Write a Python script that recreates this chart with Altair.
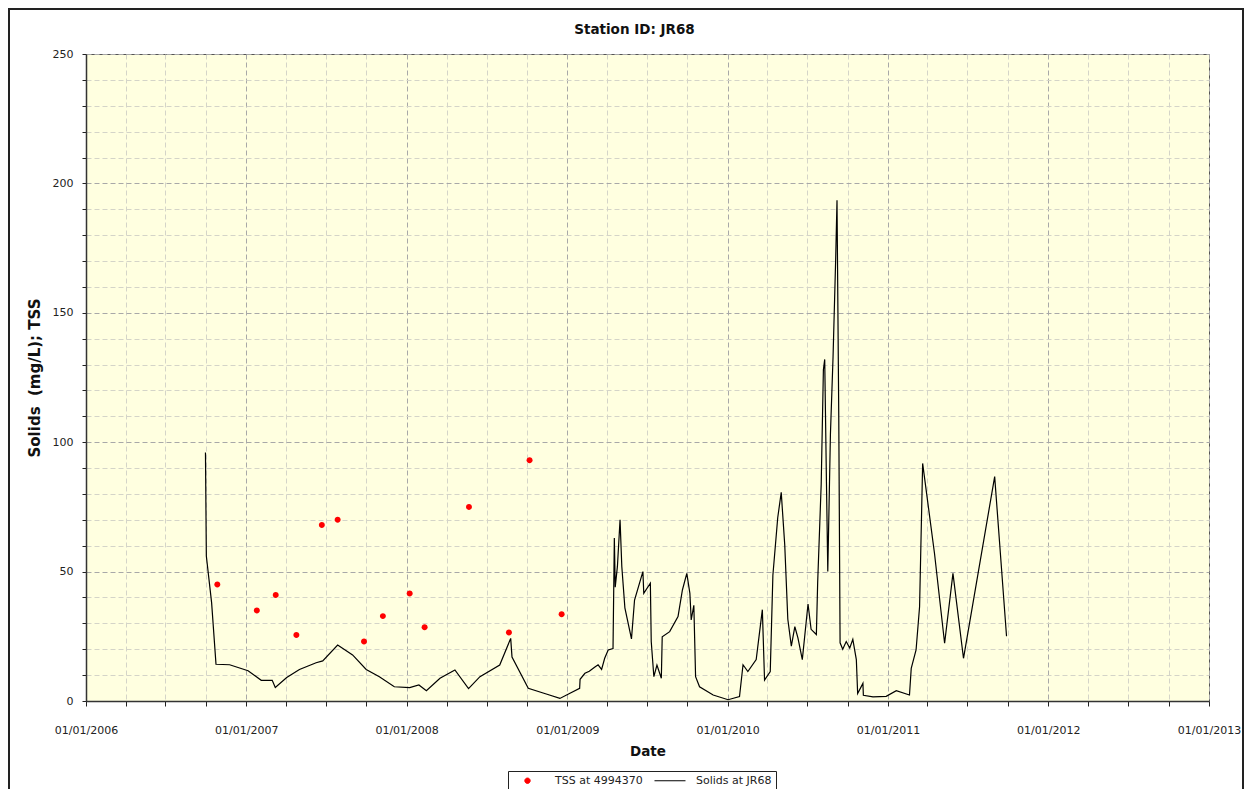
import altair as alt
import pandas as pd

# ---- data ----
tss_dates = ["2006-10-27", "2007-01-25", "2007-03-09", "2007-04-25", "2007-06-22",
             "2007-07-28", "2007-09-26", "2007-11-08", "2008-01-08", "2008-02-11",
             "2008-05-22", "2008-08-21", "2008-10-07", "2008-12-19"]
tss_values = [45, 35, 41, 25.5, 68, 70, 23, 32.8, 41.5, 28.5, 75, 26.5, 93, 33.5]

solids_dates = [
    "2006-09-30", "2006-10-02", "2006-10-14", "2006-10-24", "2006-11-24",
    "2007-01-05", "2007-02-04", "2007-03-01", "2007-03-08", "2007-04-03",
    "2007-05-02", "2007-06-09", "2007-06-24", "2007-07-28", "2007-08-31",
    "2007-10-01", "2007-10-31", "2007-12-04", "2008-01-08", "2008-01-29",
    "2008-02-15", "2008-03-17", "2008-04-20", "2008-05-21", "2008-06-16",
    "2008-07-31", "2008-08-25", "2008-08-28", "2008-10-04", "2008-11-14",
    "2008-12-15", "2009-01-07", "2009-01-29", "2009-01-30", "2009-02-10",
    "2009-02-20", "2009-03-04", "2009-03-12", "2009-03-20", "2009-03-27",
    "2009-04-04", "2009-04-15",
    "2009-04-18", "2009-04-20", "2009-04-25", "2009-05-01", "2009-05-05",
    "2009-05-12", "2009-05-27", "2009-06-03", "2009-06-22", "2009-06-24",
    "2009-07-09", "2009-07-11", "2009-07-17", "2009-07-24", "2009-08-03",
    "2009-08-05", "2009-08-22", "2009-09-10", "2009-09-20", "2009-09-30",
    "2009-10-07", "2009-10-10", "2009-10-16", "2009-10-20", "2009-10-29",
    "2009-11-29", "2010-01-02", "2010-01-28", "2010-02-05", "2010-02-16",
    "2010-03-07", "2010-03-21", "2010-03-26", "2010-04-08", "2010-04-14",
    "2010-04-25", "2010-05-03", "2010-05-11", "2010-05-18", "2010-05-26",
    "2010-06-03", "2010-06-10", "2010-06-20", "2010-07-03", "2010-07-10",
    "2010-07-22", "2010-07-25", "2010-08-02", "2010-08-07", "2010-08-10",
    "2010-08-14", "2010-08-17", "2010-08-23", "2010-08-29", "2010-09-04",
    "2010-09-07", "2010-09-11", "2010-09-14", "2010-09-20", "2010-09-28",
    "2010-10-06", "2010-10-13", "2010-10-21", "2010-10-24", "2010-11-05",
    "2010-11-06", "2010-11-28", "2010-12-28", "2011-01-20", "2011-02-19",
    "2011-02-23", "2011-03-06", "2011-03-14", "2011-03-21", "2011-04-17",
    "2011-05-10", "2011-05-29", "2011-06-22", "2011-09-01", "2011-09-28",
]
solids_values = [
    96, 56, 38, 14.2, 14,
    11.7, 8, 8, 5.2, 9.1,
    12.2, 14.8, 15.5, 21.6, 17.8,
    12.2, 9.4, 5.5, 5.2, 6.2,
    4.0, 8.8, 12.0, 4.8, 9.4,
    13.9, 24.2, 17, 4.9, 2.7,
    1.0, 3.0, 4.9, 8.4, 10.7,
    11.5, 13, 14, 12.2, 16.5,
    19.7, 20.3,
    63, 44, 52, 70, 52,
    36, 24, 39, 50, 41.6,
    45.5, 23, 9.4, 13.9, 8.8,
    24.8, 26.8, 32.6, 42.9, 49.3,
    41.6, 31.3, 37, 9.4, 5.5,
    2.3, 0.5, 1.7, 14, 11.4,
    16, 35.3, 8.1, 11.4, 48.6,
    70.8, 80.6, 60.3, 31.6, 21.2,
    28.7, 24.4, 16, 37.5, 27.7,
    25.7, 46, 83.8, 128, 132,
    84, 50, 103, 133, 171,
    193.5, 110, 22.5, 20, 23,
    20.5, 23.8, 16, 2.9, 6.8,
    2.2, 1.6, 1.8, 4, 2.3,
    12.6, 19.7, 36.4, 91.8, 57,
    22.3, 49.3, 16.5, 86.7, 25,
]

series_names = ["TSS at 4994370", "Solids at JR68"]
series_colors = ["#ff0000", "#000000"]
y_ticks = list(range(0, 251, 10))
x_years = list(range(2006, 2013))
chart_title = "Station ID: JR68"

df_tss = pd.DataFrame({"date": tss_dates, "value": tss_values, "series": series_names[0]})
df_sol = pd.DataFrame({"date": solids_dates, "value": solids_values, "series": series_names[1]})

FONT = "DejaVu Sans"
W, H = 1123, 647

x_values = [alt.DateTime(year=yy, month=m, date=1, utc=True) for yy in x_years for m in (1, 4, 7, 10)]
x_values.append(alt.DateTime(year=2013, month=1, date=1, utc=True))

x_scale = alt.Scale(type="utc",
                    domain=[alt.DateTime(year=2006, month=1, date=1, utc=True),
                            alt.DateTime(year=2013, month=1, date=1, utc=True)])
y_scale = alt.Scale(domain=[0, 250], nice=False)

MAJOR_GRID = "#a8a8a8"
MINOR_GRID = "#d4d4c8"

x_axis = alt.Axis(
    values=x_values,
    labelExpr="utcmonth(datum.value) === 0 ? utcFormat(datum.value, '%m/%d/%Y') : ''",
    labelOverlap=False, labelFlush=False,
    grid=True,
    gridColor={"condition": {"test": "utcmonth(datum.value) === 0", "value": MAJOR_GRID}, "value": MINOR_GRID},
    gridDash=[5, 3], gridWidth=1,
    tickColor="#222", tickSize=5, tickWidth=1,
    domainColor="#333", domainWidth=1.5,
    labelFont=FONT, labelFontSize=11, labelColor="#222", labelPadding=18,
    title="Date", titleFont=FONT, titleFontSize=13.5, titleFontWeight="bold",
    titleColor="#111", titlePadding=9,
)
y_axis = alt.Axis(
    values=y_ticks,
    labelExpr="datum.value % 50 === 0 ? datum.label : ''",
    labelOverlap=False,
    grid=True,
    gridColor={"condition": {"test": "datum.value % 50 === 0", "value": MAJOR_GRID}, "value": MINOR_GRID},
    gridDash=[5, 3], gridWidth=1,
    tickColor="#222", tickSize=4, tickWidth=1,
    domainColor="#333", domainWidth=1.5,
    labelFont=FONT, labelFontSize=11, labelColor="#222", labelPadding=9,
    title="Solids\u00a0 (mg/L); TSS", titleFont=FONT, titleFontSize=15, titleFontWeight="bold",
    titleColor="#111", titlePadding=10,
)

# legend symbols: a small dot and a short horizontal dash (custom unit paths)
dot_path = "M-0.9,0A0.9,0.9,0,1,0,0.9,0A0.9,0.9,0,1,0,-0.9,0Z"
dash_path = "M-4.67,0H5.67"

color_scale = alt.Scale(domain=series_names, range=series_colors)
shape_scale = alt.Scale(domain=series_names, range=[dot_path, dash_path])

legend = alt.Legend(
    title=None, orient="none", legendX=422, legendY=717, direction="horizontal",
    strokeColor="#222", fillColor="#ffffff", padding=4,
    labelFont=FONT, labelFontSize=11, labelColor="#222", labelOffset=22,
    columnPadding=9, symbolSize=36, symbolStrokeWidth=1, symbolOffset=10,
)

points = alt.Chart(df_tss).mark_point(filled=True, opacity=1, size=44).encode(
    x=alt.X("date:T", scale=x_scale, axis=x_axis),
    y=alt.Y("value:Q", scale=y_scale, axis=y_axis),
    color=alt.Color("series:N", scale=color_scale, legend=legend),
    shape=alt.Shape("series:N", scale=shape_scale, legend=legend),
)

line = alt.Chart(df_sol).mark_line(strokeWidth=1.2, interpolate="linear").encode(
    x=alt.X("date:T", scale=x_scale, axis=x_axis),
    y=alt.Y("value:Q", scale=y_scale, axis=y_axis),
    color=alt.Color("series:N", scale=color_scale, legend=legend),
)

# outer frame of the picture (decoration)
frame = alt.Chart(alt.Data(values=[{"k": 1}])).mark_rect(
    filled=False, stroke="#222", strokeWidth=2
).encode(
    x=alt.value(-77), x2=alt.value(W + 34), y=alt.value(-45), y2=alt.value(H + 120)
)

title_mark = alt.Chart(alt.Data(values=[{"t": chart_title}])).mark_text(
    font=FONT, fontSize=13.5, fontWeight="bold", color="#111",
    align="center", baseline="middle",
).encode(
    text="t:N", x=alt.value(W / 2 - 13), y=alt.value(-24)
)

chart = alt.layer(frame, line, points, title_mark).properties(
    width=W, height=H,
    autosize=alt.AutoSizeParams(type="none"),
    padding={"left": 78, "top": 46, "right": 35, "bottom": 88},
).configure(
    background="#ffffff", font=FONT,
).configure_view(
    fill="#ffffe0", stroke="#555555", strokeWidth=1,
)

chart.save("out.html", embed_options={"renderer": "svg", "actions": False})
